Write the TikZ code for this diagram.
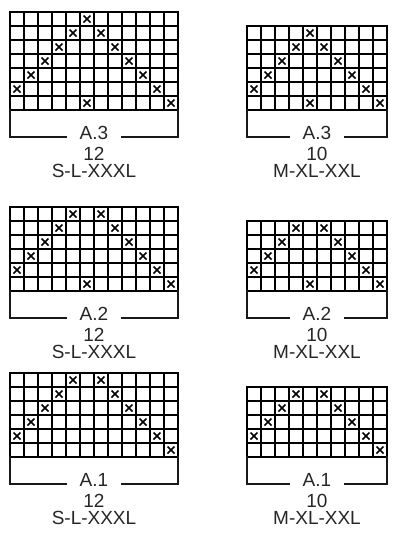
\documentclass[tikz,border=0pt]{standalone}
\usepackage{fontspec}
\setmainfont{Liberation Sans}
\usepackage{tikz}
\usetikzlibrary{calc}

\def\cell{14}
% chart grid: left x, top y, columns, rows, crosses (col/row)
\newcommand{\knitchart}[5]{%
  \foreach \i in {0,...,#3}
    \draw[gridline] ({#1+\i*\cell},#2) -- ++(0,{#4*\cell});
  \foreach \j in {0,...,#4}
    \draw[gridline] (#1,{#2+\j*\cell}) -- ++({#3*\cell},0);
  \foreach \c/\r in {#5}
    \draw[crossmark] ({#1+(\c-0.5)*\cell-3.5},{#2+(\r-0.5)*\cell-3.5}) -- ++(7,7) ++(-7,0) -- ++(7,-7);
}
% bracket below a chart: left x, right x, top y, bottom y
\newcommand{\chartbracket}[4]{%
  \draw[bracket] (#1,#3) |- ({(#1+#2)/2-28},#4);
  \draw[bracket] (#2,#3) |- ({(#1+#2)/2+28},#4);
}

\begin{document}
\begin{tikzpicture}[x=1pt, y=-1pt,
    gridline/.style={line width=1.2pt, black, line cap=rect},
    crossmark/.style={line width=1.6pt, black},
    bracket/.style={line width=2pt, black!90, line cap=rect},
    chartlabel/.style={font=\fontsize{19}{21}\selectfont, anchor=base, inner sep=0pt,
      text height=13.8pt, text depth=0pt, text=black!85}]
    \useasboundingbox (0,0) rectangle (401,550);

    % Top row: A.3
    \knitchart{10}{12}{12}{7}{6/1,5/2,7/2,4/3,8/3,3/4,9/4,2/5,10/5,1/6,11/6,6/7,12/7}
    \chartbracket{10}{178}{110}{137}
    \node[chartlabel] (labAthreeS) at (94,139.6) {A.3};
    \node[chartlabel] (numAthreeS) at (94,160.5) {12};
    \node[chartlabel] (sizeAthreeS) at (94,177.5) {S-L-XXXL};

    \knitchart{247}{26}{10}{6}{5/1,4/2,6/2,3/3,7/3,2/4,8/4,1/5,9/5,5/6,10/6}
    \chartbracket{247}{387}{110}{137}
    \node[chartlabel] (labAthreeM) at (317,139.6) {A.3};
    \node[chartlabel] (numAthreeM) at (317,160.5) {10};
    \node[chartlabel] (sizeAthreeM) at (317,177.5) {M-XL-XXL};

    % Middle row: A.2
    \knitchart{10}{207}{12}{6}{5/1,7/1,4/2,8/2,3/3,9/3,2/4,10/4,1/5,11/5,6/6,12/6}
    \chartbracket{10}{178}{291}{318}
    \node[chartlabel] (labAtwoS) at (94,320.4) {A.2};
    \node[chartlabel] (numAtwoS) at (94,341) {12};
    \node[chartlabel] (sizeAtwoS) at (94,358) {S-L-XXXL};

    \knitchart{247}{221}{10}{5}{4/1,6/1,3/2,7/2,2/3,8/3,1/4,9/4,5/5,10/5}
    \chartbracket{247}{387}{291}{318}
    \node[chartlabel] (labAtwoM) at (317,320.4) {A.2};
    \node[chartlabel] (numAtwoM) at (317,341) {10};
    \node[chartlabel] (sizeAtwoM) at (317,358) {M-XL-XXL};

    % Bottom row: A.1
    \knitchart{10}{373}{12}{6}{5/1,7/1,4/2,8/2,3/3,9/3,2/4,10/4,1/5,11/5,12/6}
    \chartbracket{10}{178}{457}{484}
    \node[chartlabel] (labAoneS) at (94,486.6) {A.1};
    \node[chartlabel] (numAoneS) at (94,507.5) {12};
    \node[chartlabel] (sizeAoneS) at (94,524.5) {S-L-XXXL};

    \knitchart{247}{387}{10}{5}{4/1,6/1,3/2,7/2,2/3,8/3,1/4,9/4,10/5}
    \chartbracket{247}{387}{457}{484}
    \node[chartlabel] (labAoneM) at (317,486.6) {A.1};
    \node[chartlabel] (numAoneM) at (317,507.5) {10};
    \node[chartlabel] (sizeAoneM) at (317,524.5) {M-XL-XXL};
\end{tikzpicture}
\end{document}
